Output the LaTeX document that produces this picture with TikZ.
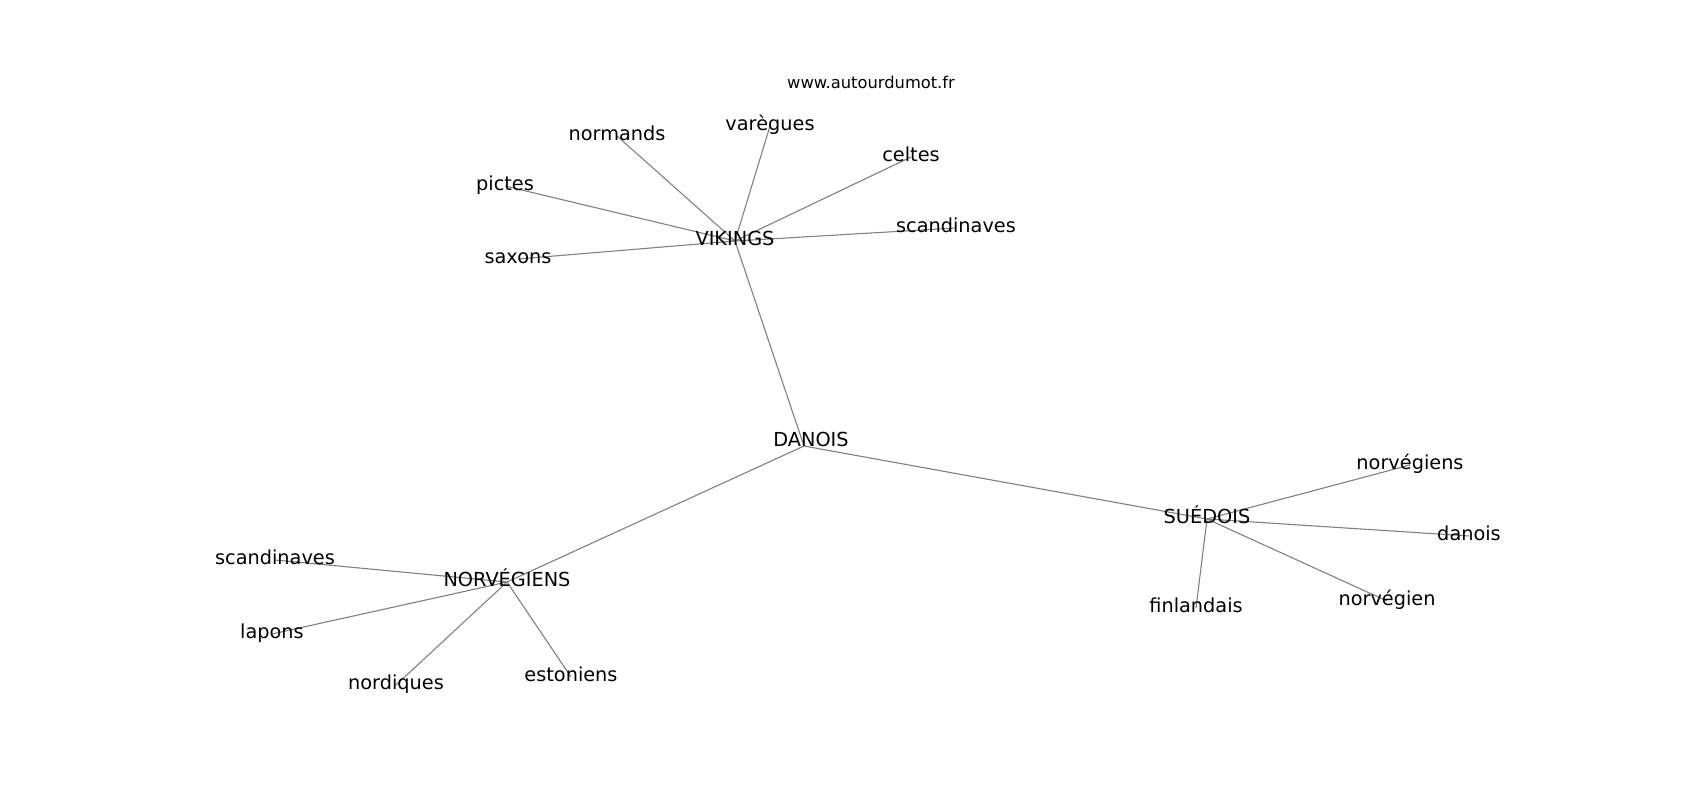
\documentclass[tikz,border=0pt]{standalone}
\usepackage{fontspec}
\setmainfont{DejaVu Sans}
\usetikzlibrary{backgrounds}
\tikzset{
  word/.style={
    font=\fontsize{19.3}{23}\selectfont,
    text height=0.92em,
    text depth=0.08em,
    inner sep=0mm,
    outer sep=0mm,
    anchor=center
  },
  site/.style={
    font=\fontsize{16.3}{19}\selectfont,
    inner sep=0mm
  },
  link/.style={
    draw=gray,
    line width=1.1pt
  }
}
\begin{document}
\begin{tikzpicture}[x=1pt,y=-1pt]
    \useasboundingbox (0,0) rectangle (1700,800);
    \node[site] (site) at (871,82) {www.autourdumot.fr};
    \node[word] (vikings) at (735,241) {VIKINGS};
    \node[word] (normands) at (617,136) {normands};
    \node[word] (varegues) at (770,126) {varègues};
    \node[word] (celtes) at (911,157) {celtes};
    \node[word] (pictes) at (505,186) {pictes};
    \node[word] (scandv) at (956,228) {scandinaves};
    \node[word] (saxons) at (518,259) {saxons};
    \node[word] (danois) at (811,442) {DANOIS};
    \coordinate (danoisdot) at (804,446);
    \node[word] (norvegiens) at (507,582) {NORVÉGIENS};
    \node[word] (scandn) at (275,560) {scandinaves};
    \node[word] (lapons) at (272,634) {lapons};
    \node[word] (nordiques) at (396,685) {nordiques};
    \node[word] (estoniens) at (571,677) {estoniens};
    \node[word] (suedois) at (1207,519) {SUÉDOIS};
    \node[word] (norvegiensb) at (1410,465) {norvégiens};
    \node[word] (danoisb) at (1469,536) {danois};
    \node[word] (norvegien) at (1387,601) {norvégien};
    \node[word] (finlandais) at (1196,608) {finlandais};
    \begin{pgfonlayer}{background}
    \draw[link] (vikings.center) -- (normands.center);
    \draw[link] (vikings.center) -- (varegues.center);
    \draw[link] (vikings.center) -- (celtes.center);
    \draw[link] (vikings.center) -- (pictes.center);
    \draw[link] (vikings.center) -- (scandv.center);
    \draw[link] (vikings.center) -- (saxons.center);
    \draw[link] (vikings.center) -- (danoisdot);
    \draw[link] (danoisdot) -- (norvegiens.center);
    \draw[link] (danoisdot) -- (suedois.center);
    \draw[link] (norvegiens.center) -- (scandn.center);
    \draw[link] (norvegiens.center) -- (lapons.center);
    \draw[link] (norvegiens.center) -- (nordiques.center);
    \draw[link] (norvegiens.center) -- (estoniens.center);
    \draw[link] (suedois.center) -- (norvegiensb.center);
    \draw[link] (suedois.center) -- (danoisb.center);
    \draw[link] (suedois.center) -- (norvegien.center);
    \draw[link] (suedois.center) -- (finlandais.center);
    \end{pgfonlayer}
\end{tikzpicture}
\end{document}
